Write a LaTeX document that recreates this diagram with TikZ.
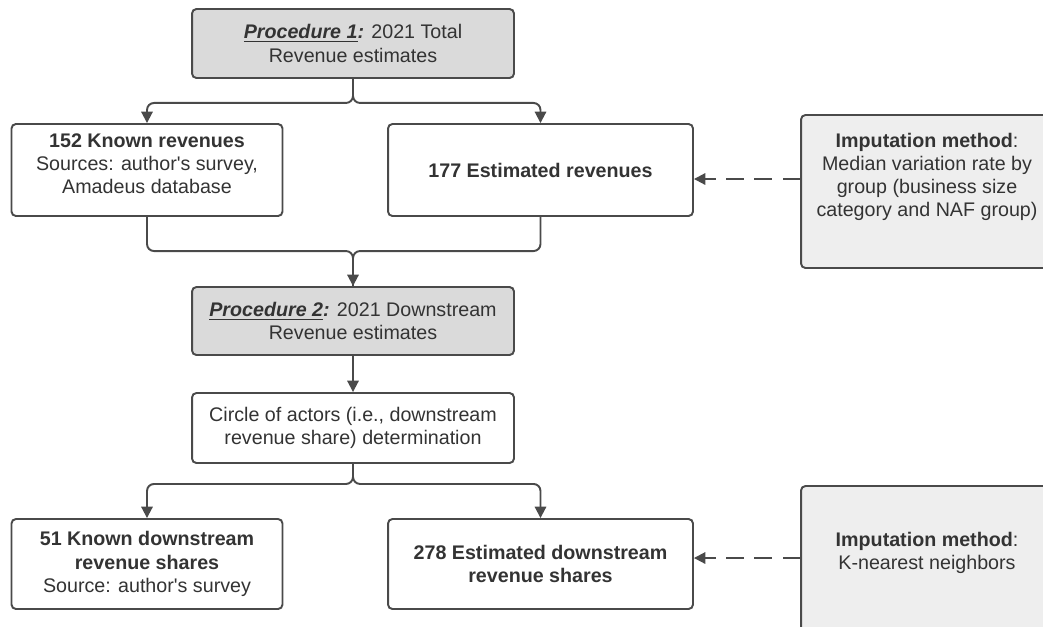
\documentclass[tikz,border=0pt]{standalone}
\usepackage{fontspec}
\setmainfont{Liberation Sans}
\usetikzlibrary{arrows.meta,calc}
\definecolor{lineg}{HTML}{4A4A4A}
\definecolor{procg}{HTML}{DADADA}
\definecolor{impg}{HTML}{EEEEEE}
\definecolor{txtg}{HTML}{333333}
\newcommand{\procname}[1]{\underline{\textbf{\textit{#1}}}\textbf{\textit{:}}}

\begin{document}
\begin{tikzpicture}[x=0.02cm,y=-0.02cm,
  box/.style={draw=lineg,line width=1.1pt,rounded corners=2.5pt,fill=white,
    align=center,text=txtg,font=\fontsize{11.2}{13.2}\selectfont,inner sep=0pt},
  procbox/.style={box,fill=procg},
  impbox/.style={box,fill=impg},
  txt/.style={align=center,text=txtg,font=\fontsize{11.2}{13.2}\selectfont,inner sep=0pt},
  conn/.style={draw=lineg,line width=1.1pt,rounded corners=4pt},
  arr/.style={conn,-{Triangle[length=6.5pt,width=6.5pt]}},
  darr/.style={draw=lineg,line width=1.1pt,dash pattern=on 10pt off 6pt,-{Triangle[length=6.5pt,width=6.5pt]}}]
  \useasboundingbox (0,0) rectangle (1043,626);
  \clip (0,0) rectangle (1043,626);

  % procedure 1
  \node[procbox,minimum width=6.44cm,minimum height=1.38cm] (proc1) at (353,43.5)
    {\procname{Procedure 1} 2021 Total\\Revenue estimates};
  \node[box,minimum width=5.42cm,minimum height=1.84cm] (known) at (147,170) {};
  \node[txt] (knowntxt) at (147,164)
    {\textbf{152 Known revenues}\\Sources: author\textquotesingle s survey,\\Amadeus database};
  \node[box,minimum width=6.10cm,minimum height=1.84cm] (est) at (540.5,170)
    {\textbf{177 Estimated revenues}};
  \node[impbox,minimum width=5.04cm,minimum height=3.06cm] (imp1) at (927,191.5) {};
  \node[txt] (imp1txt) at (927,177)
    {\textbf{Imputation method}:\\Median variation rate by\\group (business size\\category and NAF group)};

  % procedure 2
  \node[procbox,minimum width=6.44cm,minimum height=1.36cm] (proc2) at (353,321)
    {\procname{Procedure 2} 2021 Downstream\\Revenue estimates};
  \node[box,minimum width=6.44cm,minimum height=1.40cm] (circ) at (353,428)
    {Circle of actors (i.e., downstream\\revenue share) determination};
  \node[box,minimum width=5.42cm,minimum height=1.80cm] (known2) at (147,564)
    {\textbf{51 Known downstream}\\\textbf{revenue shares}\\Source: author\textquotesingle s survey};
  \node[box,minimum width=6.10cm,minimum height=1.80cm] (est2) at (540.5,564)
    {\textbf{278 Estimated downstream}\\\textbf{revenue shares}};
  \node[impbox,minimum width=5.04cm,minimum height=3.08cm] (imp2) at (927,563) {};
  \node[txt] (imp2txt) at (927,553)
    {\textbf{Imputation method}:\\K-nearest neighbors};

  % connectors
  \draw[arr] (proc1.south) -- ++(0,24) -| (known.north);
  \draw[arr] (proc1.south) -- ++(0,24) -| (est.north);
  \coordinate (mrg) at ($(proc2.north)+(0,-35)$);
  \draw[conn] (known.south) |- (mrg) -- (proc2.north);
  \draw[arr] (est.south) |- (mrg) -- (proc2.north);
  \draw[arr] (proc2.south) -- (circ.north);
  \draw[arr] (circ.south) -- ++(0,20) -| (known2.north);
  \draw[arr] (circ.south) -- ++(0,20) -| (est2.north);

  \path (imp1.west) ++(0,-12.5) coordinate (d1);
  \draw[darr] (d1) -- (d1 -| est.east);
  \path (imp2.west) ++(0,-5) coordinate (d2);
  \draw[darr] (d2) -- (d2 -| est2.east);
\end{tikzpicture}
\end{document}
